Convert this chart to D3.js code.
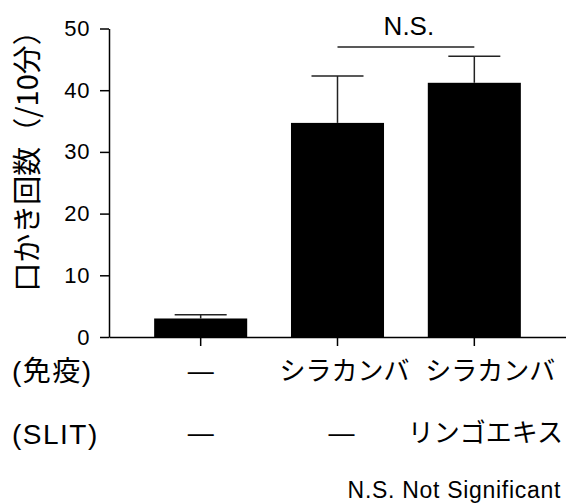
<!DOCTYPE html>
<html>
<head>
<meta charset="utf-8">
<script src="https://cdn.jsdelivr.net/npm/d3@7"></script>
<style>
  body { margin: 0; background: #fff; }
  text { fill: #000; }
</style>
</head>
<body>
<div class="chart"></div>
<script>
// data
const groups   = ['ctrl', 'birch', 'birch_apple'];
const means    = [3.0, 34.7, 41.2];
const errUpper = [3.6, 42.3, 45.5];
const rowImmune = ['—', 'シラカンバ', 'シラカンバ'];
const rowSlit   = ['—', '—', 'リンゴエキス'];
const yTicks   = [0, 10, 20, 30, 40, 50];
const nsPair   = ['birch', 'birch_apple'];
const nsLevel  = 47.0;

const W = 566, H = 504;
const latin = '"Liberation Sans", Arial, "Noto Sans CJK JP", sans-serif';
const cjk = '"Noto Sans CJK JP", sans-serif';

let svg = d3.select('.chart').append('svg').attr('width', W).attr('height', H);

let x = d3.scaleBand().domain(groups).range([109, 566]).paddingInner(0.32).paddingOuter(0.33);
let y = d3.scaleLinear().domain([0, 50]).range([337, 28.5]);
let cx = (g) => x(g) + x.bandwidth() / 2;

// y axis
let yAxis = svg.append('g').attr('transform', 'translate(109,0)')
    .call(d3.axisLeft(y).tickValues(yTicks).tickSize(9).tickSizeOuter(0).tickPadding(10));
yAxis.select('.domain').attr('stroke', '#000').attr('stroke-width', 1.5);
yAxis.selectAll('.tick line').attr('stroke', '#000').attr('stroke-width', 1.5);
yAxis.selectAll('.tick text').style('font-family', latin).style('font-size', '22px')
    .style('letter-spacing', '0.6px').attr('fill', '#000');

// bars
svg.selectAll('rect.bar').data(groups).enter().append('rect')
    .attr('class', 'bar')
    .attr('x', (d) => x(d))
    .attr('width', x.bandwidth())
    .attr('y', (d, i) => y(means[i]))
    .attr('height', (d, i) => y(0) - y(means[i]))
    .attr('fill', '#000');

// error bars (upper only)
let err = svg.selectAll('g.err').data(groups).enter().append('g').attr('class', 'err')
    .attr('stroke', '#222').attr('stroke-width', 1.5);
err.append('line')
    .attr('x1', cx).attr('x2', cx)
    .attr('y1', (d, i) => y(means[i])).attr('y2', (d, i) => y(errUpper[i]));
err.append('line')
    .attr('x1', (d) => cx(d) - 26).attr('x2', (d) => cx(d) + 26)
    .attr('y1', (d, i) => y(errUpper[i])).attr('y2', (d, i) => y(errUpper[i]));

// x axis
let xAxis = svg.append('g').attr('transform', 'translate(0,' + y(0) + ')')
    .call(d3.axisBottom(x).tickSize(9).tickSizeOuter(0).tickFormat(''));
xAxis.select('.domain').attr('stroke', '#000').attr('stroke-width', 1.5);
xAxis.selectAll('.tick line').attr('stroke', '#000').attr('stroke-width', 1.5);

// y label
svg.append('text')
    .attr('transform', 'translate(25,154) rotate(-90)')
    .attr('text-anchor', 'middle')
    .attr('dominant-baseline', 'central')
    .style('font-family', cjk).style('font-size', '29px')
    .text('口かき回数（/10分）');

// N.S. bracket
svg.append('line')
    .attr('x1', cx(nsPair[0])).attr('x2', cx(nsPair[1]))
    .attr('y1', y(nsLevel)).attr('y2', y(nsLevel))
    .attr('stroke', '#222').attr('stroke-width', 1.5);
svg.append('text')
    .attr('x', (cx(nsPair[0]) + cx(nsPair[1])) / 2 + 3).attr('y', 35)
    .attr('text-anchor', 'middle')
    .style('font-family', latin).style('font-size', '26px')
    .text('N.S.');

// condition rows
const rowFont = '26px';
const offImmune = [0, 7, 16], offSlit = [0, 4, 11];
svg.append('text').attr('x', 12).attr('y', 371).attr('dominant-baseline', 'central')
    .style('font-family', latin).style('font-size', '28px').style('letter-spacing', '1.5px').text('(免疫)');
svg.append('text').attr('x', 12).attr('y', 434).attr('dominant-baseline', 'central')
    .style('font-family', latin).style('font-size', '28px').style('letter-spacing', '1.5px').text('(SLIT)');
svg.selectAll('text.r1').data(rowImmune).enter().append('text').attr('class', 'r1')
    .attr('x', (d, i) => cx(groups[i]) + offImmune[i]).attr('y', 371)
    .attr('text-anchor', 'middle').attr('dominant-baseline', 'central')
    .style('font-family', latin).style('font-size', rowFont).text((d) => d);
svg.selectAll('text.r2').data(rowSlit).enter().append('text').attr('class', 'r2')
    .attr('x', (d, i) => cx(groups[i]) + offSlit[i]).attr('y', 433)
    .attr('text-anchor', 'middle').attr('dominant-baseline', 'central')
    .style('font-family', latin).style('font-size', rowFont).text((d) => d);

// footnote
svg.append('text').attr('x', 561).attr('y', 498).attr('text-anchor', 'end')
    .style('font-family', latin).style('font-size', '23px').style('letter-spacing', '0.7px')
    .text('N.S. Not Significant');
</script>
</body>
</html>
